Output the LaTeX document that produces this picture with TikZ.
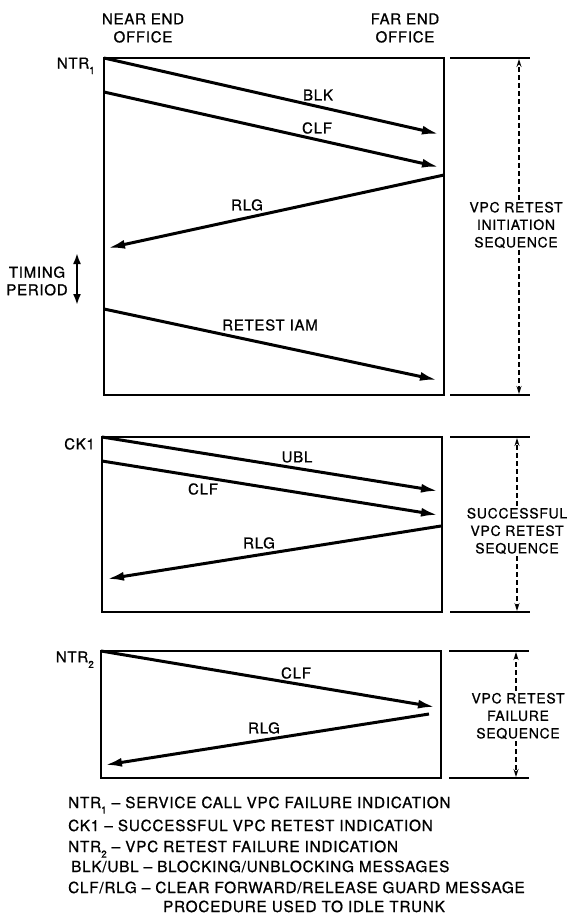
\documentclass[tikz,border=0pt]{standalone}
\usepackage{fontspec}
\setmainfont[LetterSpace=5, FakeBold=0.9]{TeX Gyre Heros}
\usetikzlibrary{arrows.meta}
\newcommand{\mysub}[1]{\raisebox{-0.7ex}{\fontsize{10}{10}\selectfont #1}}
\begin{document}
\begin{tikzpicture}[x=1pt,y=-1pt,
  lbl/.style={font=\fontsize{15}{17.5}\selectfont, inner sep=0pt, align=center},
  dimtxt/.style={font=\fontsize{14}{17.5}\selectfont, inner sep=2pt, align=center, fill=white},
  head/.style={font=\fontsize{15}{18}\selectfont, inner sep=0pt, align=center},
  legend/.style={font=\fontsize{15.3}{18}\selectfont, inner sep=0pt, anchor=base west},
  frame/.style={draw, line width=2pt},
  msg/.style={line width=3pt, -{Latex[length=17pt,width=9pt]}},
  dim/.style={line width=1.1pt, dash pattern=on 5pt off 3pt, -{Stealth[length=8pt,width=5pt]}},
  tick/.style={line width=1.6pt}]
\useasboundingbox (0,0) rectangle (571,914);

% headings
\node[head] (near) at (143,28) {NEAR END\\OFFICE};
\node[head] (far) at (405,28) {FAR END\\OFFICE};

% ---------- box 1 ----------
\coordinate (b1nw) at (104,58);
\coordinate (b1se) at (444,395);
\draw[frame] (b1nw) rectangle (b1se);
\node[lbl, anchor=base east] (ntr1) at (95,68.5) {NTR\mysub{1}};
\coordinate (b1a) at (104,92);
\coordinate (blkE) at (439,134);
\coordinate (clfE) at (439,167);
\coordinate (rlgS) at (444,175);
\coordinate (rlgE) at (108,248);
\coordinate (iamS) at (104,309);
\coordinate (iamE) at (437,380);
\draw[msg] (b1nw) -- (blkE);
\draw[msg] (b1a) -- (clfE);
\draw[msg] (rlgS) -- (rlgE);
\draw[msg] (iamS) -- (iamE);
\node[lbl] (blk) at (318,95) {BLK};
\node[lbl] (clf1) at (317,128) {CLF};
\node[lbl] (rlg1) at (247,205) {RLG};
\node[lbl] (iam) at (270,325) {RETEST IAM};

% timing period
\node[lbl] (timing) at (37,281) {TIMING\\PERIOD};
\coordinate (t1) at (77,253);
\coordinate (t2) at (77,305);
\draw[line width=2pt, {Latex[length=11pt,width=8pt]}-{Latex[length=11pt,width=8pt]}] (t1) -- (t2);

% dimension 1
\coordinate (d1a) at (450,58); \coordinate (d1b) at (530,58);
\coordinate (d1c) at (450,395); \coordinate (d1d) at (530,395);
\draw[tick] (d1a) -- (d1b);
\draw[tick] (d1c) -- (d1d);
\coordinate (d1t) at (519,59); \coordinate (d1u) at (519,394);
\node[dimtxt] (seq1) at (516,225) {VPC RETEST\\INITIATION\\SEQUENCE};
\draw[dim] (seq1.north -| d1t) -- (d1t);
\draw[dim] (seq1.south -| d1u) -- (d1u);

% ---------- box 2 ----------
\coordinate (b2nw) at (102,437);
\coordinate (b2se) at (442,612);
\draw[frame] (b2nw) rectangle (b2se);
\node[lbl, anchor=base east] (ck1) at (95,449.4) {CK1};
\coordinate (b2a) at (102,461);
\coordinate (ublE) at (438,491);
\coordinate (clf2E) at (438,515);
\coordinate (rlg2S) at (441,526);
\coordinate (rlg2E) at (107,579);
\draw[msg] (b2nw) -- (ublE);
\draw[msg] (b2a) -- (clf2E);
\draw[msg] (rlg2S) -- (rlg2E);
\node[lbl] (ubl) at (297,457) {UBL};
\node[lbl] (clf2) at (203,489) {CLF};
\node[lbl] (rlg2) at (259,543) {RLG};

\coordinate (d2a) at (450,437); \coordinate (d2b) at (530,437);
\coordinate (d2c) at (450,612); \coordinate (d2d) at (530,612);
\draw[tick] (d2a) -- (d2b);
\draw[tick] (d2c) -- (d2d);
\coordinate (d2t) at (517,438); \coordinate (d2u) at (517,611);
\node[dimtxt] (seq2) at (517,531) {SUCCESSFUL\\VPC RETEST\\SEQUENCE};
\draw[dim] (seq2.north -| d2t) -- (d2t);
\draw[dim] (seq2.south -| d2u) -- (d2u);

% ---------- box 3 ----------
\coordinate (b3nw) at (101,651);
\coordinate (b3se) at (441,778);
\draw[frame] (b3nw) rectangle (b3se);
\node[lbl, anchor=base east] (ntr2) at (94,662.4) {NTR\mysub{2}};
\coordinate (clf3E) at (435,707);
\coordinate (rlg3S) at (429,714);
\coordinate (rlg3E) at (105,765);
\draw[msg] (b3nw) -- (clf3E);
\draw[msg] (rlg3S) -- (rlg3E);
\node[lbl] (clf3) at (296,673) {CLF};
\node[lbl] (rlg3) at (264,728) {RLG};

\coordinate (d3a) at (449,651); \coordinate (d3b) at (529,651);
\coordinate (d3c) at (449,778); \coordinate (d3d) at (529,778);
\draw[tick] (d3a) -- (d3b);
\draw[tick] (d3c) -- (d3d);
\coordinate (d3t) at (516,652); \coordinate (d3u) at (516,777);
\node[dimtxt] (seq3) at (518,716) {VPC RETEST\\FAILURE\\SEQUENCE};
\draw[dim] (seq3.north -| d3t) -- (d3t);
\draw[dim] (seq3.south -| d3u) -- (d3u);

% ---------- legend ----------
\node[legend] (l1) at (68,808) {NTR\mysub{1} -- SERVICE CALL VPC FAILURE INDICATION};
\node[legend] (l2) at (68,831) {CK1 -- SUCCESSFUL VPC RETEST INDICATION};
\node[legend] (l3) at (68,852) {NTR\mysub{2} -- VPC RETEST FAILURE INDICATION};
\node[legend] (l4) at (71,872) {BLK/UBL -- BLOCKING/UNBLOCKING MESSAGES};
\node[legend] (l5) at (68,893) {CLF/RLG -- CLEAR FORWARD/RELEASE GUARD MESSAGE};
\node[lbl, anchor=base, font=\fontsize{15.3}{18}\selectfont] (l6) at (304,912) {PROCEDURE USED TO IDLE TRUNK};
\end{tikzpicture}
\end{document}
